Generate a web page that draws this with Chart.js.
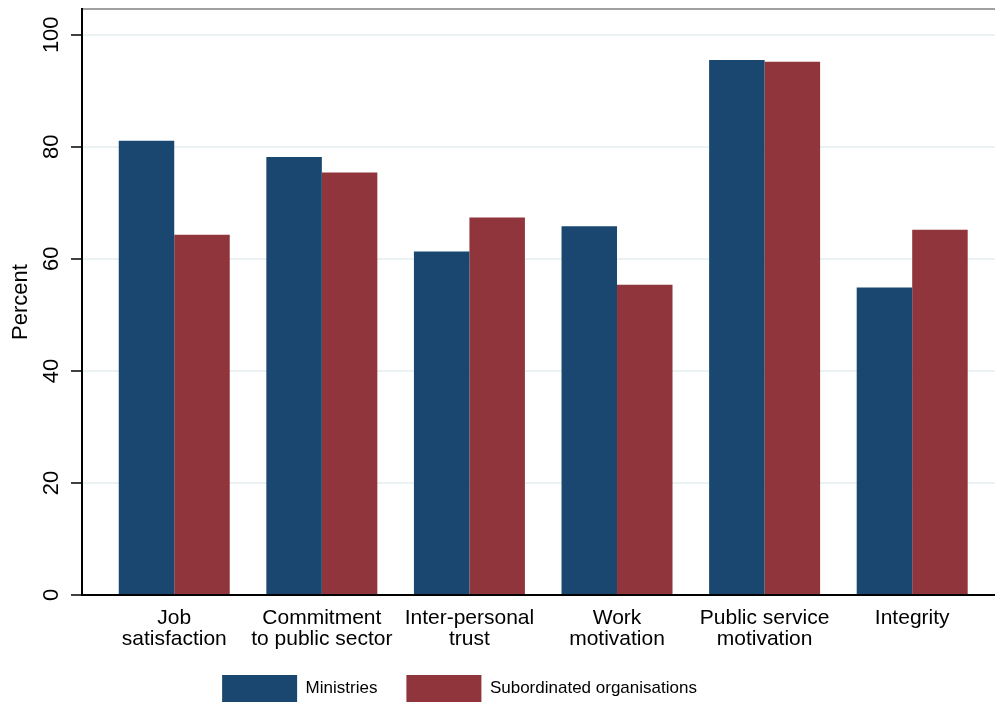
<!DOCTYPE html>
<html>
<head>
<meta charset="utf-8">
<script src="https://cdn.jsdelivr.net/npm/chart.js@4/dist/chart.umd.min.js"></script>
<style>
  html, body { margin: 0; padding: 0; background: #fff; overflow: hidden; }
  canvas { display: block; }
</style>
</head>
<body>
<canvas id="chart" width="995" height="712"></canvas>
<script>
// ---- data ----
const categories = [
  ["Job", "satisfaction"],
  ["Commitment", "to public sector"],
  ["Inter-personal", "trust"],
  ["Work", "motivation"],
  ["Public service", "motivation"],
  ["Integrity"]
];
const ministries    = [81.1, 78.2, 61.3, 65.8, 95.5, 54.9];
const subordinated  = [64.3, 75.4, 67.4, 55.4, 95.2, 65.2];
const yTicks        = [0, 20, 40, 60, 80, 100];

const NAVY = "#1a476f";
const MAROON = "#90353b";

// shift legend where Stata put it, and let x labels' descenders show
const layoutTweaks = {
  id: "layoutTweaks",
  afterLayout(chart){
    if(chart.legend) chart.legend.right = 919;
    const x = chart.scales.x;
    x.bottom += 12;
    x.height += 12;
  }
};

new Chart(document.getElementById("chart"), {
  type: "bar",
  data: {
    datasets: [
      {
        label: "Ministries",
        data: ministries.map((v, i) => ({x: i, y: v})),
        backgroundColor: NAVY,
        categoryPercentage: 0.752,
        barPercentage: 1.0
      },
      {
        label: "Subordinated organisations",
        data: subordinated.map((v, i) => ({x: i, y: v})),
        backgroundColor: MAROON,
        categoryPercentage: 0.752,
        barPercentage: 1.0
      }
    ]
  },
  options: {
    responsive: false,
    animation: false,
    layout: { padding: { top: 9, left: 0, right: 0, bottom: 0 }, autoPadding: false },
    plugins: {
      tooltip: { enabled: false },
      legend: {
        position: "bottom",
        labels: {
          boxWidth: 75,
          boxHeight: 27,
          padding: 29,
          color: "#000",
          font: { family: "'Liberation Sans Narrow', 'Liberation Sans', Arial, sans-serif", size: 17 }
        }
      }
    },
    scales: {
      x: {
        type: "linear",
        position: "bottom",
        offset: false,
        min: -0.625,
        max: 5.561,
        grid: { display: false, drawTicks: false },
        border: { display: true, color: "#000", width: 2 },
        afterBuildTicks: s => { s.ticks = categories.map((c, i) => ({value: i})); },
        afterFit: s => { s.height = 51; s.paddingLeft = 0; s.paddingRight = 0; },
        ticks: {
          autoSkip: false,
          maxRotation: 0,
          minRotation: 0,
          padding: 13,
          color: "#000",
          font: { family: "'Liberation Sans', Arial, sans-serif", size: 21, lineHeight: 1.0 },
          callback: v => categories[v]
        }
      },
      x2: {
        type: "linear",
        position: "top",
        grid: { display: false, drawTicks: false },
        ticks: { display: false },
        border: { display: true, color: "#a0a0a0", width: 2 },
        afterFit: s => { s.height = 0; }
      },
      y: {
        min: 0,
        max: 104.6,
        afterBuildTicks: s => { s.ticks = yTicks.map(v => ({value: v})); },
        afterFit: s => { s.width = 82; s.paddingTop = 0; s.paddingBottom = 0; },
        grid: {
          color: ctx => ctx.tick && ctx.tick.value === 0 ? "rgba(0,0,0,0)" : "#eaf2f3",
          lineWidth: 2,
          tickColor: "#000",
          tickWidth: 1.5,
          tickLength: 11
        },
        border: { display: true, color: "#000", width: 2 },
        ticks: {
          minRotation: 90,
          maxRotation: 90,
          crossAlign: "center",
          padding: 1,
          color: "#000",
          font: { family: "'Liberation Sans', Arial, sans-serif", size: 22 }
        },
        title: {
          display: true,
          text: "Percent",
          color: "#000",
          padding: { top: 8, bottom: 0 },
          font: { family: "'Liberation Sans', Arial, sans-serif", size: 22 }
        }
      }
    }
  },
  plugins: [layoutTweaks]
});
</script>
</body>
</html>
